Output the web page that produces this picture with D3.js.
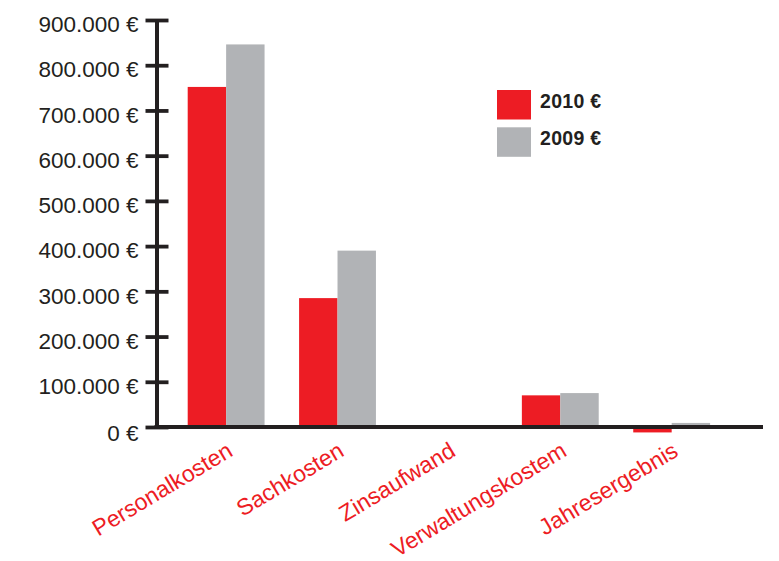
<!DOCTYPE html>
<html>
<head>
<meta charset="utf-8">
<script src="https://cdn.jsdelivr.net/npm/d3@7"></script>
<style>
  html, body { margin: 0; padding: 0; background: #fff; }
  svg { display: block; font-family: "Liberation Sans", Arial, Helvetica, sans-serif; }
</style>
</head>
<body>
<svg id="chart" width="779" height="561"></svg>
<script>
const categories = ["Personalkosten", "Sachkosten", "Zinsaufwand", "Verwaltungskostem", "Jahresergebnis"];
const series = ["2010 €", "2009 €"];
const values2010 = [752000, 285000, 0, 70000, -12000];
const values2009 = [846000, 390000, 0, 75000, 9000];
const yTicks = [0, 100000, 200000, 300000, 400000, 500000, 600000, 700000, 800000, 900000];
const colors = ["#ed1c24", "#b1b3b6"];

const svg = d3.select("#chart");
const ink = "#231f20";

const x = d3.scaleBand().domain(categories).range([187.7, 710.1]).paddingInner(0.31).paddingOuter(0);
const xs = d3.scaleBand().domain(series).range([0, x.bandwidth()]);
const y = d3.scaleLinear().domain([0, 900000]).range([427, 20]);

const de = d3.formatLocale({decimal: ",", thousands: ".", grouping: [3], currency: ["", " €"]});
const fmt = de.format("$,.0f");

// bars
const rows = categories.map((c, i) => ({cat: c, vals: [values2010[i], values2009[i]]}));
const g = svg.append("g");
rows.forEach(r => {
  r.vals.forEach((v, j) => {
    g.append("rect")
      .attr("x", x(r.cat) + xs(series[j]))
      .attr("width", xs.bandwidth())
      .attr("y", y(Math.max(0, v)))
      .attr("height", Math.abs(y(v) - y(0)))
      .attr("fill", colors[j]);
  });
});

// y axis
const yAxis = svg.append("g")
  .attr("transform", "translate(156.5,0)")
  .call(d3.axisLeft(y).tickValues(yTicks).tickFormat(fmt).tickSizeOuter(0).tickSizeInner(11).tickPadding(8));
yAxis.select(".domain").attr("stroke", ink).attr("stroke-width", 4);
yAxis.selectAll(".tick line").attr("x1", -11).attr("x2", 12).attr("stroke", ink).attr("stroke-width", 3.8);
yAxis.selectAll(".tick text")
  .attr("fill", ink).attr("font-size", 22.5)
  .attr("x", -18)
  .attr("dy", d => d === 0 ? "0.62em" : "0.52em");
yAxis.attr("font-family", null);

// x axis
const xAxis = svg.append("g")
  .attr("transform", `translate(0,${y(0)})`)
  .call(d3.axisBottom(x).tickSize(0).tickPadding(0));
xAxis.select(".domain").remove();
xAxis.attr("font-family", null);
xAxis.selectAll(".tick text")
  .attr("fill", "#ed1c24").attr("font-size", 23)
  .attr("text-anchor", "end")
  .attr("y", 0).attr("dy", 0)
  .attr("transform", "translate(8,28) rotate(-31)");

svg.append("line")
  .attr("x1", 154.5).attr("x2", 763)
  .attr("y1", y(0)).attr("y2", y(0))
  .attr("stroke", ink).attr("stroke-width", 4);

// legend
const legend = svg.append("g").attr("transform", "translate(497,90)");
series.forEach((s, i) => {
  legend.append("rect").attr("x", 0).attr("y", i * 37.3).attr("width", 34).attr("height", 29.5).attr("fill", colors[i]);
  legend.append("text").attr("x", 43).attr("y", i * 37 + 17.5)
    .attr("font-size", 19.5).attr("font-weight", "bold").attr("fill", ink)
    .attr("letter-spacing", 0.3)
    .text(s);
});
</script>
</body>
</html>
